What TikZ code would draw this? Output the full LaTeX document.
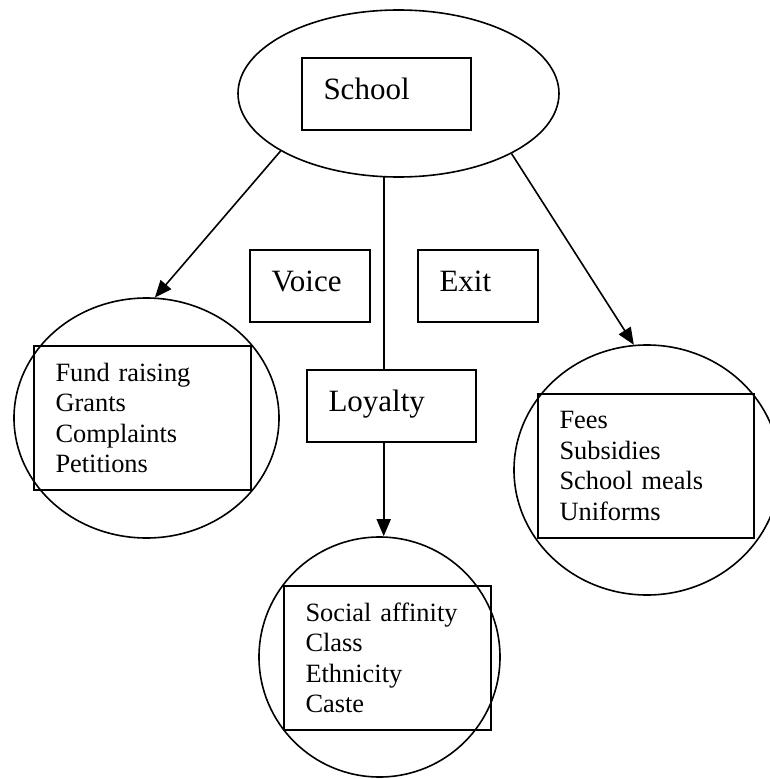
\documentclass[tikz,border=0pt]{standalone}
\usepackage{fontspec}
\setmainfont{Liberation Serif}
\usetikzlibrary{shapes.geometric,arrows.meta}

\begin{document}
\begin{tikzpicture}[x=1pt, y=-1pt,
    ring/.style={draw, ellipse, line width=1.6pt, inner sep=0pt},
    labelbox/.style={draw, rectangle, line width=1.6pt, font=\fontsize{31}{36}\selectfont,
        align=left, inner xsep=21.5pt, minimum height=72pt, text height=22pt, text depth=12pt},
    listbox/.style={draw, rectangle, line width=1.6pt, font=\fontsize{26.4}{30.4}\selectfont,
        align=left, inner xsep=21.5pt, minimum height=144pt},
    link/.style={line width=1.6pt, -{Triangle[length=17pt,width=14pt]}}]
    \useasboundingbox (0,0) rectangle (769,779);

    \node[ring, minimum width=321pt, minimum height=167pt] (schoolring) at (398.5,93.5) {};
    \node[labelbox, text width=126pt] (school) at (386.5,94) {School};
    \node[labelbox, text width=77pt] (voice) at (310,286) {Voice};
    \node[labelbox, text width=77pt] (exit) at (478,286) {Exit};
    \node[labelbox, text width=126pt] (loyalty) at (391.5,406) {Loyalty};

    \node[ring, minimum width=265pt, minimum height=240pt] (voicering) at (146.5,418) {};
    \node[listbox, text width=174pt] (voicelist) at (142.5,418)
        {Fund raising\\Grants\\Complaints\\Petitions};
    \node[ring, minimum width=266pt, minimum height=250pt] (exitring) at (647,470) {};
    \node[listbox, text width=173pt] (exitlist) at (646,466)
        {Fees\\Subsidies\\School meals\\Uniforms};
    \node[ring, minimum width=241pt, minimum height=240pt] (loyaltyring) at (379.5,657) {};
    \node[listbox, text width=164pt] (loyaltylist) at (387.5,658)
        {Social affinity\\Class\\Ethnicity\\Caste};

    \draw[link] (schoolring.206) -- (voicering.86);
    \draw[link] (schoolring.332) -- (exitring.96);
    \draw[line width=1.6pt] (schoolring.260) -- (schoolring.260 |- loyalty.north);
    \draw[link] (schoolring.260 |- loyalty.south) -- (schoolring.260 |- loyaltyring.north);
\end{tikzpicture}
\end{document}
